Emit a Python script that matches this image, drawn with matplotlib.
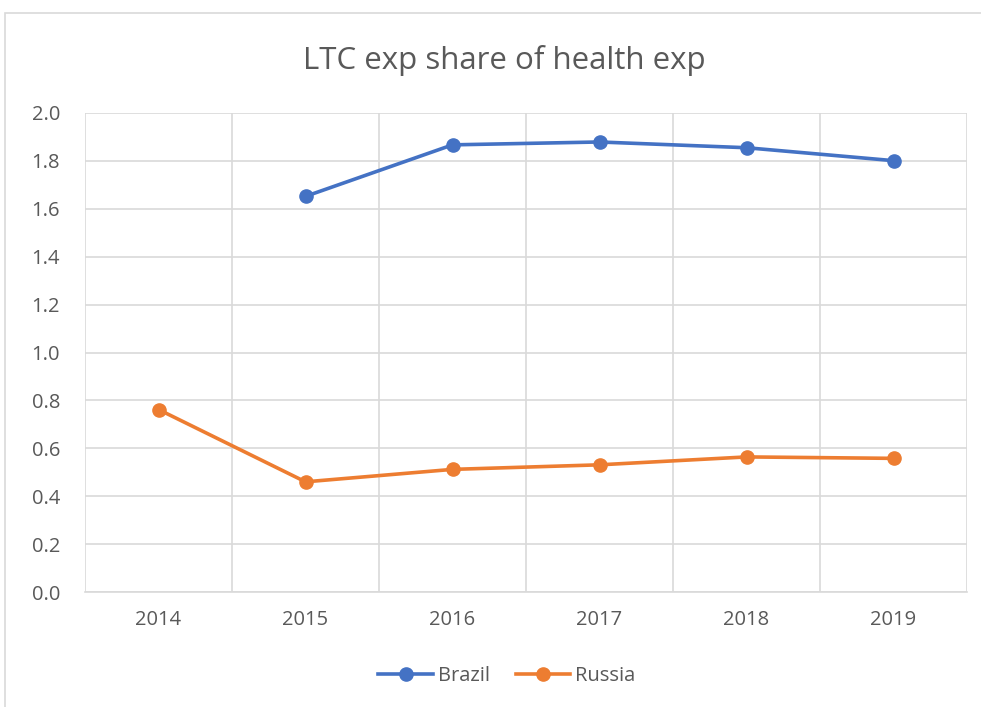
import matplotlib.pyplot as plt
import matplotlib.patches as mpatches
import numpy as np

years = ['2014', '2015', '2016', '2017', '2018', '2019']
brazil = [np.nan, 1.652, 1.867, 1.879, 1.855, 1.801]
russia = [0.762, 0.460, 0.512, 0.531, 0.564, 0.558]

plt.rcParams['font.family'] = ['Open Sans', 'DejaVu Sans']
txt = '#595959'
grid = '#d9d9d9'

W, H = 981, 707
fig = plt.figure(figsize=(W / 100, H / 100), dpi=100)

# chart border (cut off on right and bottom, like the screenshot)
fig.patches.append(mpatches.Rectangle((5 / W, -0.05), 1.2, 1 - 13 / H + 0.05,
                                      transform=fig.transFigure, fill=False,
                                      edgecolor=grid, linewidth=1.2))

ax = fig.add_axes([85 / W, 1 - 592 / H, (967 - 85) / W, (592 - 113) / H])
x = np.arange(len(years))

ax.plot(x, brazil, color='#4472C4', lw=2.6, marker='o', ms=9.5, label='Brazil', zorder=3)
ax.plot(x, russia, color='#ED7D31', lw=2.6, marker='o', ms=9.5, label='Russia', zorder=3)

ax.set_xlim(-0.5, len(years) - 0.5)
ax.set_ylim(0, 2.0)
ax.set_yticks(np.arange(0, 2.01, 0.2))
ax.set_yticklabels([f'{v:.1f}' for v in np.arange(0, 2.01, 0.2)])
ax.set_xticks(x)
ax.set_xticklabels(years)
ax.set_xticks(np.arange(-0.5, len(years), 1), minor=True)

ax.grid(axis='y', which='major', color=grid, lw=1.2)
ax.grid(axis='x', which='minor', color=grid, lw=1.2)
ax.set_axisbelow(True)
for s in ['top', 'right', 'left']:
    ax.spines[s].set_visible(False)
ax.spines['bottom'].set_color(grid)
ax.spines['bottom'].set_linewidth(1.2)
ax.tick_params(which='both', length=0, colors=txt, labelsize=14.5)
ax.tick_params(axis='y', pad=18)
ax.tick_params(axis='x', pad=13)

fig.text(504 / W, 1 - 60 / H, 'LTC exp share of health exp', ha='center', va='center',
         fontsize=22.5, color=txt)

fig.legend(loc='center', bbox_to_anchor=(507 / W, 1 - 676 / H), ncol=2, frameon=False,
           fontsize=14.5, labelcolor=txt, handlelength=2.7, columnspacing=1.3,
           handletextpad=0.25)

fig.savefig('out.png', dpi=100)
